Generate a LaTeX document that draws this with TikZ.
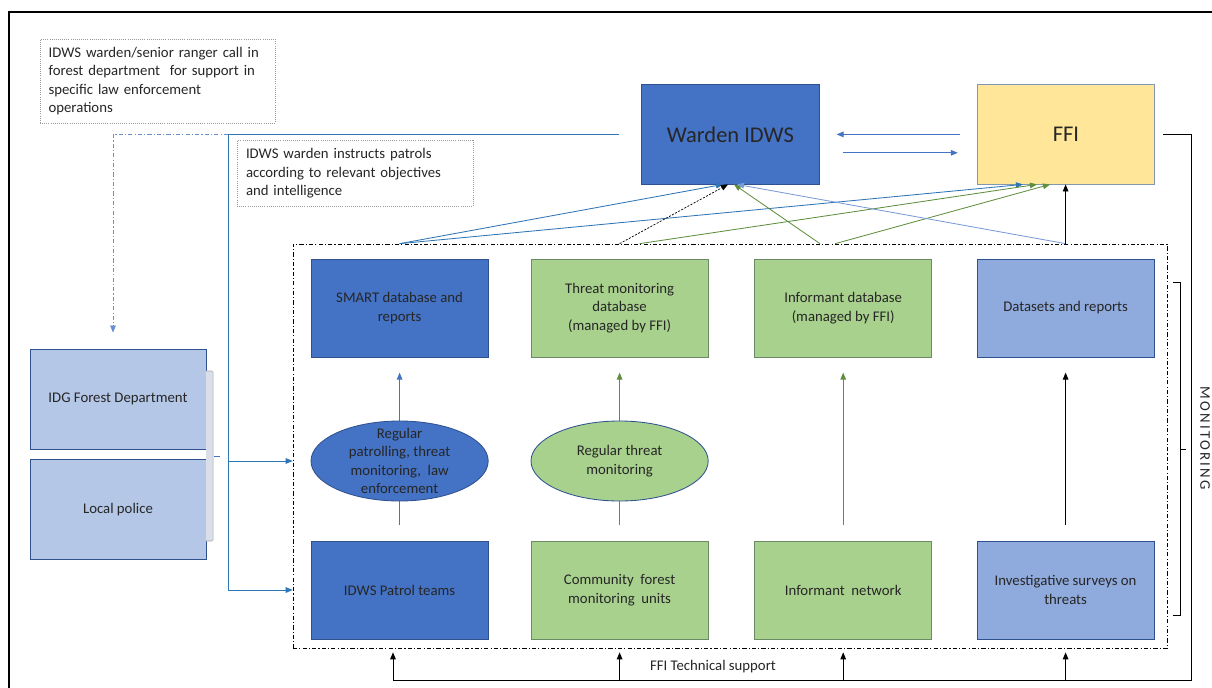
\documentclass[tikz,border=0pt]{standalone}
\usepackage{fontspec}
\setmainfont{Carlito}
\newfontfamily\spacedfont[LetterSpace=15]{Carlito}
\usetikzlibrary{arrows.meta,shapes.geometric}
\definecolor{idwsblue}{HTML}{4472C4}
\definecolor{outline}{HTML}{2F528F}
\definecolor{palegreen}{HTML}{A9D18E}
\definecolor{greenedge}{HTML}{6C8A66}
\definecolor{lightblue}{HTML}{8FAADC}
\definecolor{paleblue}{HTML}{B4C7E7}
\definecolor{ffiyellow}{HTML}{FFE699}
\definecolor{ffiedge}{HTML}{8497B0}
\definecolor{linkblue}{HTML}{2E75B6}
\definecolor{midblue}{HTML}{4472C4}
\definecolor{softblue}{HTML}{7A9BD6}
\definecolor{linkgreen}{HTML}{5F8F3E}
\definecolor{bracketgray}{HTML}{D9DEE8}
\definecolor{inktext}{HTML}{262626}
\begin{document}
\begin{tikzpicture}[
    font=\fontsize{10.5}{13.1}\selectfont, text=inktext,
    >={Triangle[length=5pt,width=4pt]},
    notebox/.style={draw=gray!80, densely dotted, line width=0.5pt, align=left, inner sep=0.2cm},
    boxbase/.style={minimum width=4.43cm, minimum height=2.45cm, align=center, line width=0.6pt, inner sep=2pt},
    patrolbox/.style={boxbase, draw=outline, fill=idwsblue},
    forestbox/.style={boxbase, draw=greenedge, fill=palegreen},
    surveybox/.style={boxbase, draw=outline, fill=lightblue},
    agencybox/.style={boxbase, draw=outline, fill=paleblue, minimum width=4.4cm, minimum height=2.5cm},
    oval/.style={ellipse, draw=outline, minimum width=4.43cm, minimum height=2.0cm, line width=0.6pt},
    bluelink/.style={draw=linkblue, line width=0.6pt},
    midlink/.style={draw=midblue, line width=0.6pt},
    softlink/.style={draw=softblue, line width=0.6pt},
    greenlink/.style={draw=linkgreen, line width=0.6pt},
    blacklink/.style={draw=black, line width=0.6pt},
    blackdash/.style={draw=black, line width=0.5pt, dash pattern=on 1.5pt off 1pt},
    dashlink/.style={draw=midblue!80, line width=0.5pt, dash pattern=on 3pt off 1.5pt on 0.8pt off 1.5pt}
]
    % 外枠
    \useasboundingbox (0,0) rectangle (30.3,-17.2);
    \draw[line width=1.4pt] (0.225,-17.2) -- (0.225,-0.3) -- (30.3,-0.3);

    % 注記
    \node[notebox, text width=5.45cm, minimum width=5.88cm, minimum height=2.05cm] (callnote) at (3.94,-2.03) {IDWS warden/senior ranger call in\\forest department\ \ for support in\\specific law enforcement\\operations};
    \node[notebox, text width=5.45cm, minimum width=5.9cm, minimum height=1.6cm] (instructnote) at (8.875,-4.33) {IDWS warden instructs patrols\\according to relevant objectives\\and intelligence};

    % 上段の組織
    \node[patrolbox, minimum height=2.48cm, font=\fontsize{16}{19}\selectfont] (warden) at (18.26,-3.36) {Warden IDWS};
    \node[boxbase, draw=ffiedge, fill=ffiyellow, minimum height=2.48cm, font=\fontsize{16}{19}\selectfont] (ffi) at (26.65,-3.36) {FFI};

    % 監視エリア
    \node[draw, line width=0.5pt, dash pattern=on 3pt off 1.5pt on 0.8pt off 1.5pt, minimum width=21.85cm, minimum height=10.1cm] (area) at (18.25,-11.15) {};

    \node[patrolbox] (smart) at (9.99,-7.7) {SMART database and\\reports};
    \node[forestbox] (threatdb) at (15.49,-7.7) {Threat monitoring\\database\\(managed by FFI)};
    \node[forestbox] (informdb) at (21.08,-7.7) {Informant database\\(managed by FFI)};
    \node[surveybox] (datasets) at (26.64,-7.7) {Datasets and reports};

    \node[patrolbox] (patrol) at (9.99,-14.75) {IDWS Patrol teams};
    \node[forestbox] (community) at (15.49,-14.75) {Community\ \ forest\\monitoring\ \ units};
    \node[forestbox] (informnet) at (21.08,-14.75) {Informant\ \ network};
    \node[surveybox] (surveys) at (26.64,-14.75) {Investigative surveys on\\threats};

    % 縦の矢印
    \draw[midlink,->,shorten <=0.4cm,shorten >=0.38cm] (patrol) -- (smart);
    \draw[greenlink,->,shorten <=0.4cm,shorten >=0.38cm] (community) -- (threatdb);
    \draw[greenlink,->,shorten <=0.4cm,shorten >=0.38cm] (informnet) -- (informdb);
    \draw[blacklink,->,shorten <=0.4cm,shorten >=0.38cm] (surveys) -- (datasets);

    \node[oval, fill=idwsblue, label={[align=center]center:{Regular\\patrolling, threat\\monitoring,\ \ law\\enforcement}}] (patrolling) at (9.99,-11.525) {};
    \node[oval, fill=palegreen, label={[align=center]center:{Regular threat\\monitoring}}] (threatwatch) at (15.49,-11.525) {};

    % 左側の組織
    \node[agencybox] (forest) at (2.95,-9.975) {IDG Forest Department};
    \node[agencybox] (police) at (2.95,-12.74) {Local police};
    \draw[draw=gray!70, fill=bracketgray, rounded corners=1pt] (5.15,-9.275) -- (5.33,-9.275) -- (5.33,-13.525) -- (5.15,-13.525);
    \draw[midlink] (5.35,-11.4) -- (5.5,-11.4);

    % 指示の流れ
    \coordinate (split) at (5.7,-3.36);
    \draw[bluelink] ([xshift=-0.55cm]warden.west) -- (split);
    \draw[bluelink,->] (split) |- (area.west |- patrol);
    \draw[bluelink,->] (split |- patrolling) -- (area.west |- patrolling);
    \draw[dashlink,->] (split) -| ([xshift=-0.125cm,yshift=0.4cm]forest.north);

    % Warden と FFI
    \draw[midlink,->,shorten <=0.43cm,shorten >=0.43cm] (ffi) -- (warden);
    \draw[midlink,->,shorten <=0.58cm,shorten >=0.48cm] ([yshift=-0.46cm]warden.east) -- ([yshift=-0.46cm]ffi.west);

    % 報告の矢印
    \coordinate (smarttop) at (area.north -| smart);
    \coordinate (threattop) at (area.north -| threatdb);
    \coordinate (informtop) at (area.north -| informdb);
    \coordinate (datatop) at (area.north -| datasets);
    \draw[bluelink,->] (smarttop) -- ([xshift=-0.185cm]warden.south);
    \draw[bluelink,->] (smarttop) -- ([xshift=-1.075cm]ffi.south);
    \draw[blackdash,->] (threattop) -- ([xshift=-0.06cm]warden.south);
    \draw[greenlink,->] ([xshift=0.5cm]threattop) -- ([xshift=-0.725cm]ffi.south);
    \draw[greenlink,->] ([xshift=-0.58cm]informtop) -- ([xshift=0.09cm]warden.south);
    \draw[greenlink,->] ([xshift=-0.2cm]informtop) -- ([xshift=-0.4cm]ffi.south);
    \draw[softlink,->] (datatop) -- ([xshift=0.165cm]warden.south);
    \draw[blacklink,->] (datatop) -- (datatop |- ffi.south);

    % 技術支援
    \coordinate (supcorner) at (29.775,-17.0);
    \coordinate (supleft) at (9.825,-17.0);
    \draw[blacklink] ([xshift=0.2cm]ffi.east) -| (supcorner) -- (supleft);
    \draw[blacklink,->,shorten >=0.1cm] (supleft) -- (supleft |- area.south);
    \draw[blacklink,->,shorten >=0.1cm] (supcorner -| community) -- (community |- area.south);
    \draw[blacklink,->,shorten >=0.1cm] (supcorner -| informnet) -- (informnet |- area.south);
    \draw[blacklink,->,shorten >=0.1cm] (supcorner -| surveys) -- (surveys |- area.south);
    \node (supportlabel) at (17.825,-16.675) {FFI Technical support};

    % モニタリング
    \draw[blacklink, line width=0.5pt] (29.33,-7.05) -- (29.5,-7.05) -- (29.5,-15.375) -- (29.33,-15.375);
    \draw[blacklink, line width=0.5pt] (29.5,-11.225) -- (29.65,-11.225);
    \node[rotate=-90, font=\spacedfont\fontsize{10.5}{13}\selectfont] (monitorlabel) at (30.125,-10.95) {MONITORING};
\end{tikzpicture}
\end{document}
